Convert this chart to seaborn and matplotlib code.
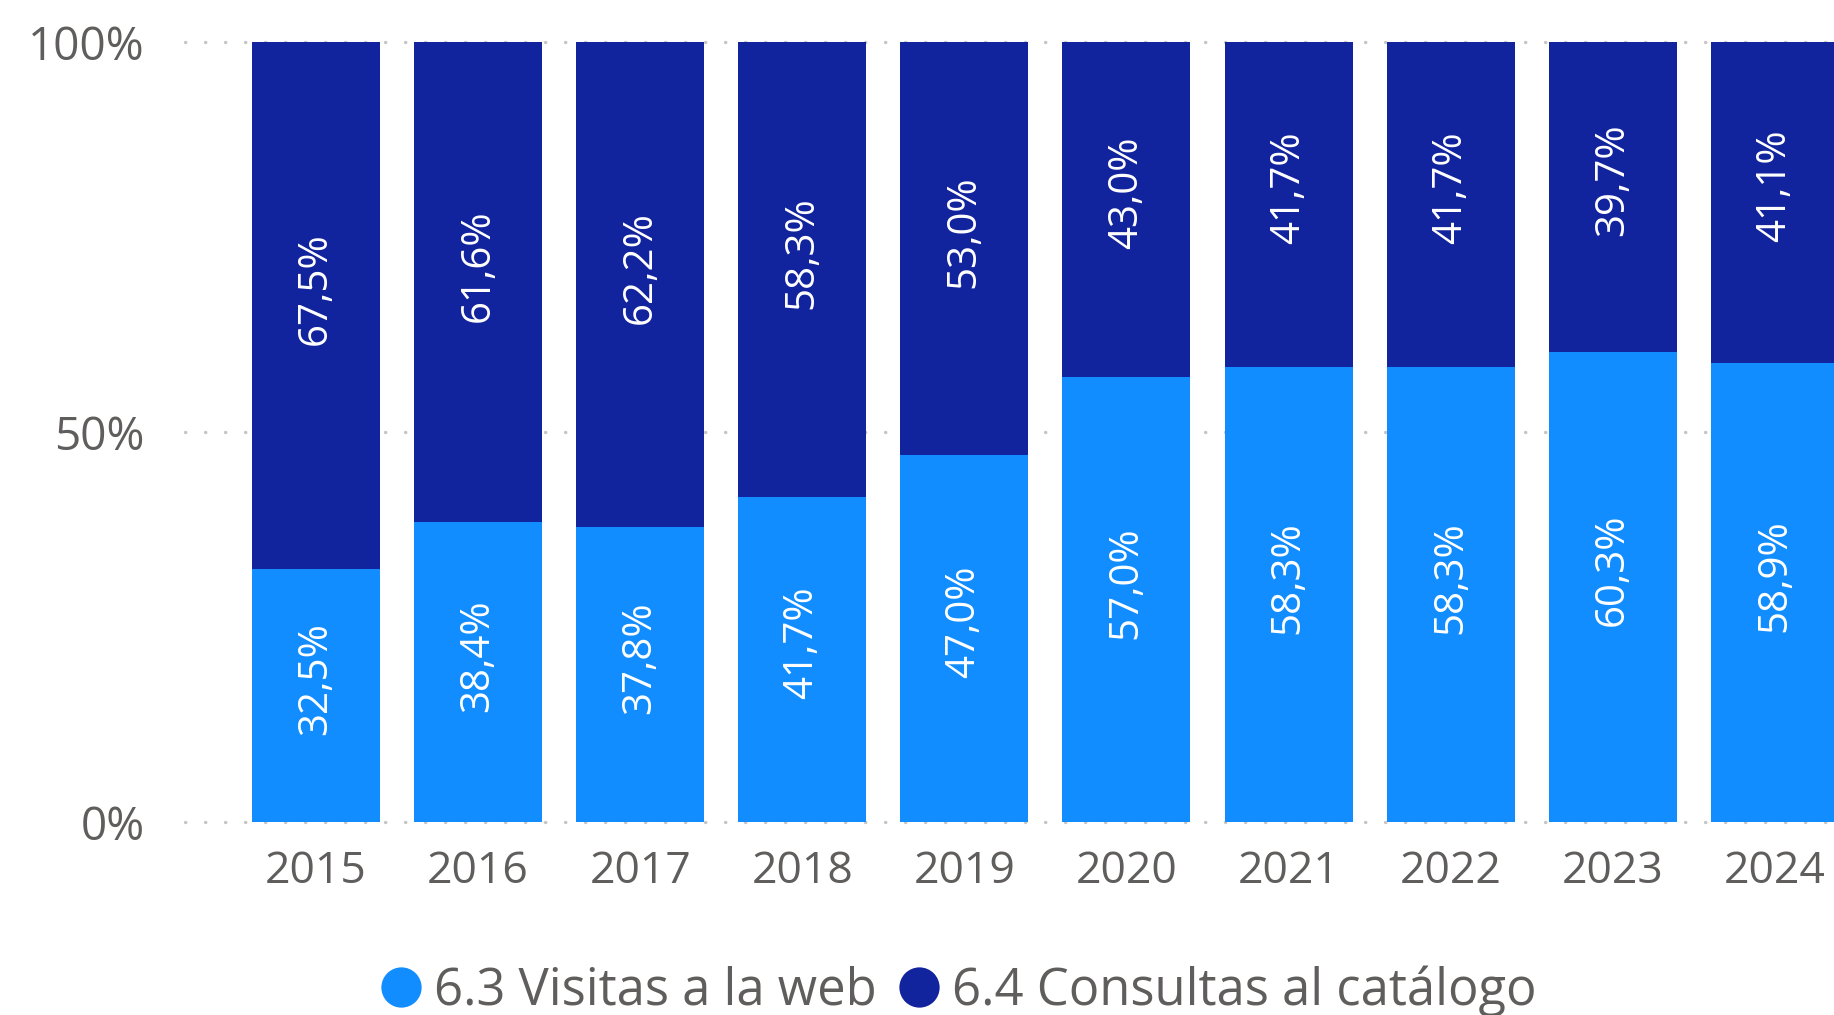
import matplotlib
matplotlib.use("Agg")
import matplotlib.pyplot as plt
from matplotlib.lines import Line2D
import seaborn as sns
import pandas as pd

years = ["2015", "2016", "2017", "2018", "2019", "2020", "2021", "2022", "2023", "2024"]
visitas_web = [32.5, 38.4, 37.8, 41.7, 47.0, 57.0, 58.3, 58.3, 60.3, 58.9]
consultas_catalogo = [67.5, 61.6, 62.2, 58.3, 53.0, 43.0, 41.7, 41.7, 39.7, 41.1]
series_names = ["6.3 Visitas a la web", "6.4 Consultas al catálogo"]
y_ticks = [0, 50, 100]
y_tick_labels = ["0%", "50%", "100%"]

LIGHT = "#118DFF"
DARK = "#12239E"
TEXT = "#605E5C"
GRID = "#C8C6C4"

sns.set_theme(style="white")
plt.rcParams["font.family"] = ["Open Sans", "DejaVu Sans"]

df = pd.DataFrame({
    "year": years,
    "web": visitas_web,
    "catalogo": consultas_catalogo,
})
df["total"] = df["web"] + df["catalogo"]

W, H = 1834, 1015
fig = plt.figure(figsize=(W / 100, H / 100), dpi=100)
# plot area: left 185px, right at the figure edge, baseline 822px, top 42px
ax = fig.add_axes([185 / W, 1 - 822 / H, (W - 185) / W, (822 - 42) / H])

bar_w = 0.79
sns.barplot(data=df, x="year", y="total", order=years, color=DARK,
            width=bar_w, saturation=1, ax=ax, zorder=2, linewidth=0)
sns.barplot(data=df, x="year", y="web", order=years, color=LIGHT,
            width=bar_w, saturation=1, ax=ax, zorder=3, linewidth=0)

ax.set_xlim(-0.808, 9.365)
ax.set_ylim(0, 100)

# dotted gridlines
for yv in y_ticks:
    ax.axhline(yv, color=GRID, linewidth=2.4, dashes=(0.1, 5.9),
               dash_capstyle="round", zorder=1, clip_on=False)

def fmt(v):
    return f"{v:.1f}".replace(".", ",") + "%"

for i, (w, c) in enumerate(zip(visitas_web, consultas_catalogo)):
    ax.annotate(fmt(w), (i, w / 2), xytext=(0, 12), textcoords="offset points",
                ha="center", va="center", rotation=90, color="white",
                fontsize=29, zorder=5)
    ax.annotate(fmt(c), (i, w + c / 2), xytext=(0, 12), textcoords="offset points",
                ha="center", va="center", rotation=90, color="white",
                fontsize=29, zorder=5)

ax.set_yticks(y_ticks)
ax.set_yticklabels(y_tick_labels)
ax.set_xlabel("")
ax.set_ylabel("")
ax.tick_params(axis="both", length=0, colors=TEXT, labelsize=32)
ax.tick_params(axis="y", pad=29, labelsize=33)
ax.tick_params(axis="x", pad=20)
for s in ax.spines.values():
    s.set_visible(False)

handles = [
    Line2D([0], [0], marker="o", linestyle="", markersize=29,
           markerfacecolor=LIGHT, markeredgewidth=0),
    Line2D([0], [0], marker="o", linestyle="", markersize=29,
           markerfacecolor=DARK, markeredgewidth=0),
]
fig.legend(handles, series_names, loc="center", ncol=2,
           bbox_to_anchor=(956 / W, 1 - 991 / H), frameon=False,
           fontsize=36.5, labelcolor=TEXT, handletextpad=0.15,
           columnspacing=0.35, handlelength=1.0)

fig.savefig("out.png", dpi=100)
